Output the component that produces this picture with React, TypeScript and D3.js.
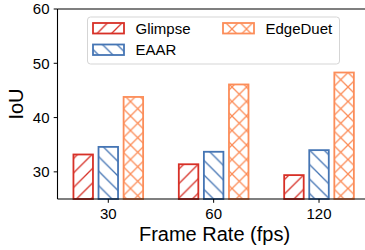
import React, { useEffect, useRef } from 'react';
import * as d3 from 'd3';

const frameRates = ['30', '60', '120'];
const methods = ['Glimpse', 'EAAR', 'EdgeDuet'];
const glimpseIoU = [33.2, 31.4, 29.4];
const eaarIoU = [34.6, 33.7, 34.0];
const edgeDuetIoU = [43.8, 46.1, 48.3];
const yTicks = [30, 40, 50, 60];

const colors = ['#d73027', '#4575b4', '#fc8d59'];
const hatches = ['fwd', 'back', 'cross'];

const W = 365;
const H = 250;
const FONT = 'Liberation Sans, Arial, Helvetica, sans-serif';

export default function App() {
  const svgRef = useRef<SVGSVGElement | null>(null);

  useEffect(() => {
    if (!svgRef.current) return;
    const svg = d3.select(svgRef.current);
    svg.selectAll('*').remove();

    const series = [glimpseIoU, eaarIoU, edgeDuetIoU];

    // plot area
    const left = 57.5;
    const top = 9;
    const bottom = 199;

    const x = d3.scaleBand<string>().domain(frameRates).range([55.6, 371.7]).padding(0);
    const xInner = d3.scaleBand<string>().domain(methods).range([-39.5, 39.5]).padding(0.15);
    const y = d3.scaleLinear().domain([25, 60]).range([bottom, top]);

    // hatch patterns
    const defs = svg.append('defs');
    const s = 14.5;
    hatches.forEach((h, i) => {
      const p = defs
        .append('pattern')
        .attr('id', `hatch-${h}`)
        .attr('patternUnits', 'userSpaceOnUse')
        .attr('width', s)
        .attr('height', s);
      p.append('rect').attr('width', s).attr('height', s).attr('fill', 'white');
      const fwd = `M-2,2 L2,-2 M0,${s} L${s},0 M${s - 2},${s + 2} L${s + 2},${s - 2}`;
      const back = `M-2,${s - 2} L2,${s + 2} M0,0 L${s},${s} M${s - 2},-2 L${s + 2},2`;
      const d = h === 'fwd' ? fwd : h === 'back' ? back : fwd + ' ' + back;
      p.append('path').attr('d', d).attr('stroke', colors[i]).attr('stroke-width', 1.3).attr('fill', 'none');
    });

    // bars
    methods.forEach((m, si) => {
      svg
        .append('g')
        .selectAll('rect')
        .data(series[si])
        .join('rect')
        .attr('x', (_, i) => x(frameRates[i])! + x.bandwidth() / 2 + xInner(m)! + 0.9)
        .attr('width', xInner.bandwidth() - 1.8)
        .attr('y', (d) => y(d))
        .attr('height', (d) => bottom - y(d))
        .attr('fill', `url(#hatch-${hatches[si]})`)
        .attr('stroke', colors[si])
        .attr('stroke-width', 1.8);
    });

    // spines
    const ax = svg.append('g').attr('stroke', '#000').attr('stroke-width', 1.1);
    ax.append('line').attr('x1', left).attr('x2', left).attr('y1', top).attr('y2', bottom);
    ax.append('line').attr('x1', left).attr('x2', W).attr('y1', top).attr('y2', top);
    ax.append('line').attr('x1', left).attr('x2', W).attr('y1', bottom).attr('y2', bottom);

    // y ticks
    const yg = svg.append('g');
    yTicks.forEach((t) => {
      yg.append('line')
        .attr('x1', left - 3.8)
        .attr('x2', left)
        .attr('y1', y(t))
        .attr('y2', y(t))
        .attr('stroke', '#000')
        .attr('stroke-width', 1);
      yg.append('text')
        .attr('x', left - 8)
        .attr('y', y(t))
        .attr('dy', '0.35em')
        .attr('text-anchor', 'end')
        .attr('font-size', 15)
        .attr('font-family', FONT)
        .text(t);
    });

    // x ticks
    const xg = svg.append('g');
    frameRates.forEach((c) => {
      const cx = x(c)! + x.bandwidth() / 2;
      xg.append('line')
        .attr('x1', cx)
        .attr('x2', cx)
        .attr('y1', bottom)
        .attr('y2', bottom + 3.8)
        .attr('stroke', '#000')
        .attr('stroke-width', 1);
      xg.append('text')
        .attr('x', cx)
        .attr('y', 218.5)
        .attr('text-anchor', 'middle')
        .attr('font-size', 15)
        .attr('font-family', FONT)
        .text(c);
    });

    // axis labels
    svg
      .append('text')
      .attr('x', 214.5)
      .attr('y', 240.5)
      .attr('text-anchor', 'middle')
      .attr('font-size', 20)
      .attr('font-family', FONT)
      .text('Frame Rate (fps)');
    svg
      .append('text')
      .attr('transform', `translate(23,${(top + bottom) / 2}) rotate(-90)`)
      .attr('text-anchor', 'middle')
      .attr('font-size', 20)
      .attr('font-family', FONT)
      .text('IoU');

    // legend
    const lg = svg.append('g');
    lg.append('rect')
      .attr('x', 87.5)
      .attr('y', 17)
      .attr('width', 252)
      .attr('height', 47)
      .attr('rx', 3)
      .attr('fill', 'white')
      .attr('fill-opacity', 0.8)
      .attr('stroke', '#d5d5d5')
      .attr('stroke-width', 1);
    const legendPos = [
      { x: 93, y: 23 },
      { x: 93, y: 44.5 },
      { x: 223, y: 23 },
    ];
    methods.forEach((m, i) => {
      const p = legendPos[i];
      lg.append('rect')
        .attr('x', p.x)
        .attr('y', p.y)
        .attr('width', 31)
        .attr('height', 10.5)
        .attr('fill', `url(#hatch-${hatches[i]})`)
        .attr('stroke', colors[i])
        .attr('stroke-width', 1.8);
      lg.append('text')
        .attr('x', p.x + 42.5)
        .attr('y', p.y + 5.5)
        .attr('dy', '0.35em')
        .attr('font-size', 15)
        .attr('font-family', FONT)
        .text(m);
    });
  }, []);

  return (
    <svg
      ref={svgRef}
      width={W}
      height={H}
      style={{ position: 'absolute', left: 0, top: 0, background: 'white' }}
    />
  );
}
